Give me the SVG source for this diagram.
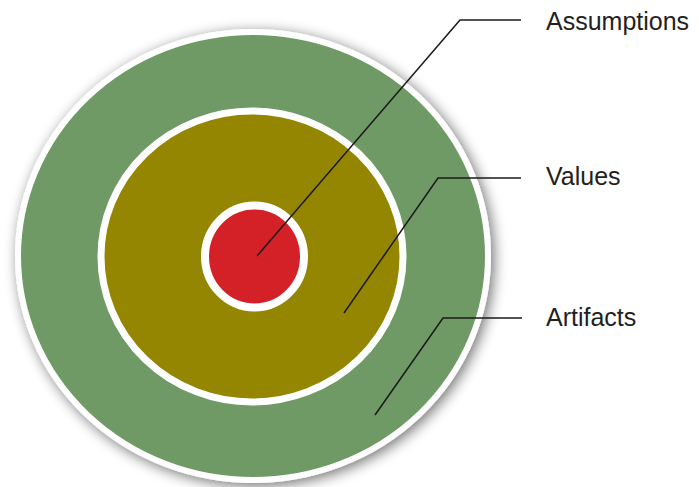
<svg xmlns="http://www.w3.org/2000/svg" width="699" height="487" viewBox="0 0 699 487">
<defs>
<filter id="shadow" x="-20%" y="-20%" width="140%" height="140%">
<feGaussianBlur in="SourceAlpha" stdDeviation="7"/>
<feOffset dx="3" dy="3" result="b"/>
<feComponentTransfer><feFuncA type="linear" slope="0.55"/></feComponentTransfer>
<feMerge><feMergeNode/><feMergeNode in="SourceGraphic"/></feMerge>
</filter>
</defs>
<style>
.ring{stroke:#ffffff}
.lbl{font-family:"Liberation Sans",Arial,sans-serif;font-size:25px;fill:#231f20}
.con{fill:none;stroke:#1a1a1a;stroke-width:1.5}
</style>
<rect width="699" height="487" fill="#ffffff"/>
<g id="artifacts">
<ellipse cx="253" cy="256" rx="235" ry="224" fill="#6f9a65" class="ring" stroke-width="6" filter="url(#shadow)"/>
</g>
<g id="values">
<ellipse cx="252" cy="256.5" rx="151" ry="145.5" fill="#948600" class="ring" stroke-width="7"/>
</g>
<g id="assumptions">
<ellipse cx="254.5" cy="256.5" rx="49.5" ry="51" fill="#d42128" class="ring" stroke-width="8"/>
</g>
<g id="connectors">
<polyline class="con" points="257,256 460,20 521,20"/>
<polyline class="con" points="344,313 438,178 521,178"/>
<polyline class="con" points="375,415 443,318 522,318"/>
</g>
<g id="labels">
<text class="lbl" x="546" y="30">Assumptions</text>
<text class="lbl" x="546" y="185">Values</text>
<text class="lbl" x="546" y="326">Artifacts</text>
</g>
</svg>
